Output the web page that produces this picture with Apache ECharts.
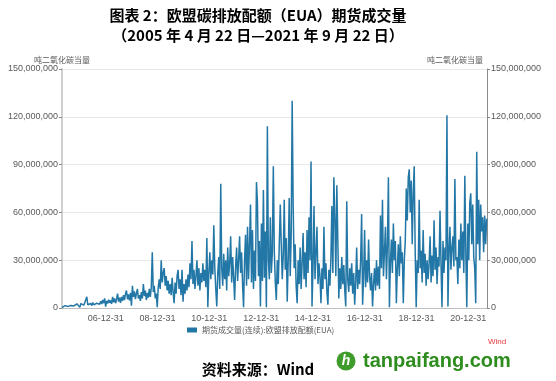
<!DOCTYPE html>
<html>
<head>
<meta charset="utf-8">
<script src="https://cdn.jsdelivr.net/npm/echarts@6/dist/echarts.min.js"></script>
<style>
html,body{margin:0;padding:0;background:#fff;}
#chart{width:556px;height:381px;}
</style>
</head>
<body>
<div id="chart"></div>
<script>
// ---- data ----
var titleLines = ['图表 2：欧盟碳排放配额（EUA）期货成交量', '（2005 年 4 月 22 日—2021 年 9 月 22 日）'];
var seriesName = '期货成交量(连续):欧盟排放配额(EUA)';
var unitName = '吨二氧化碳当量';
var startDate = [2005, 4, 22];
var endDate = [2021, 9, 22];
var stepDays = 14;
var xTickLabels = ['06-12-31', '08-12-31', '10-12-31', '12-12-31', '14-12-31', '16-12-31', '18-12-31', '20-12-31'];
var yTicks = [0, 30000000, 60000000, 90000000, 120000000, 150000000];
// volume, millions of tonnes, one value every 14 days from 2005-04-22
var volumeMillions = [
  0.3, 1.2, 0.6, 1.5, 0.8, 1.8, 1.0, 2.2, 1.1, 1.6, 0.9, 2.0, 1.3, 2.4, 1.2, 2.6, 1.5, 2.1, 0.4, 2.8, 1.6, 3.0, 1.8, 2.5, 1.4, 7.0,
  2.0, 3.2, 1.6, 2.8, 1.5, 3.4, 2.0, 2.6, 1.4, 3.0, 2.2, 3.6, 2.4, 4.2, 2.5, 5.0, 3.0, 6.0, 0.8, 4.4, 2.8, 5.2, 3.2, 4.8, 2.6, 7.0,
  3.5, 6.0, 3.0, 5.5, 9.0, 4.0, 6.5, 3.2, 7.0, 4.5, 8.0, 5.0, 9.0, 11.0, 5.5, 8.5, 4.8, 9.5, 1.5, 14.0, 7.0, 10.5, 5.5, 9.0, 12.0, 6.0,
  8.0, 4.5, 10.0, 6.0, 15.0, 7.5, 11.0, 5.0, 9.5, 6.5, 12.0, 7.0, 13.0, 35.0, 10.0, 14.0, 6.0, 9.0, 0.5, 13.0, 18.0, 12.0, 30.0, 16.0, 22.0, 25.0,
  14, 20, 11, 17, 9, 15, 8, 19, 10, 3, 16, 9, 20, 24, 12, 18, 8, 24, 4, 15, 9, 18, 11, 21, 13, 28,
  18, 42, 15, 24, 12, 20, 30, 14, 25, 11, 22, 16, 28, 17, 24, 13, 44, 0.5, 22, 35, 18, 30, 21, 52, 25, 12,
  1, 22, 32, 12, 78, 25, 14, 34, 18, 30, 11, 38, 20, 28, 45, 16, 32, 19, 5, 26, 38, 17, 30, 45, 22, 35,
  15, 0.5, 30, 46, 14, 51, 18, 40, 65, 16, 49, 12, 36, 17, 79, 66, 20, 42, 1, 53, 17, 74, 19, 48, 0.5, 114,
  30, 18, 57, 22, 35, 89, 35, 16, 5, 30, 15, 40, 65, 40, 18, 33, 68, 24, 44, 4, 30, 69, 20, 45, 130, 64,
  25, 40, 14, 3, 30, 15, 38, 12, 28, 47, 18, 35, 13, 49, 22, 57, 30, 92, 1, 26, 64, 18, 35, 51, 15, 28,
  20, 3, 25, 12, 51, 18, 28, 10, 2, 24, 14, 30, 64, 22, 82, 57, 20, 77, 43, 6, 25, 12, 32, 15, 27, 11,
  1, 67, 18, 10, 25, 14, 28, 9, 22, 2, 16, 38, 12, 24, 15, 30, 59, 2, 20, 49, 13, 30, 16, 43, 20, 11,
  22, 1, 15, 25, 11, 30, 14, 26, 12, 58, 25, 68, 20, 35, 51, 18, 40, 82, 0.5, 28, 43, 22, 53, 30, 42, 3,
  25, 40, 20, 45, 28, 35, 3, 30, 42, 75, 55, 82, 87, 60, 80, 40, 72, 89, 35, 0.5, 30, 22, 68, 25, 36, 16,
  49, 22, 34, 14, 30, 18, 28, 45, 16, 33, 20, 55, 24, 38, 15, 32, 26, 61, 28, 0.5, 42, 22, 38, 30, 121, 1,
  35, 51, 24, 38, 45, 26, 81, 30, 32, 15, 43, 25, 53, 30, 48, 22, 83, 35, 0.5, 53, 30, 66, 72, 40, 65, 32,
  25, 3, 98, 40, 68, 30, 65, 48, 57, 35, 58, 40, 56
];

// ---- build ----
function mkDate(a) { return new Date(a[0], a[1] - 1, a[2]).getTime(); }
function pad(n) { return (n < 10 ? '0' : '') + n; }
var t0 = mkDate(startDate);
var seriesData = volumeMillions.map(function (v, i) {
  var d = new Date(startDate[0], startDate[1] - 1, startDate[2] + i * stepDays);
  return [d.getTime(), v * 1000000];
});
var xTickValues = xTickLabels.map(function (s) {
  var p = s.split('-');
  return new Date(2000 + parseInt(p[0], 10), parseInt(p[1], 10) - 1, parseInt(p[2], 10)).getTime();
});
function fmtDate(v) {
  var d = new Date(v);
  return pad(d.getFullYear() % 100) + '-' + pad(d.getMonth() + 1) + '-' + pad(d.getDate());
}
function fmtNum(v) { return Math.round(v).toString().replace(/\B(?=(\d{3})+(?!\d))/g, ','); }

var FONT = '"Liberation Sans", "Noto Sans CJK SC", sans-serif';
var CJK = '"Noto Sans CJK SC", sans-serif';
var labelColor = '#595959';
var centerX = 258;

function yAxisCfg(pos) {
  var left = pos === 'left';
  return {
    type: 'value', position: pos, min: yTicks[0], max: yTicks[yTicks.length - 1],
    interval: yTicks[1] - yTicks[0],
    name: unitName, nameLocation: 'end', nameGap: 5,
    nameTextStyle: { fontFamily: CJK, fontSize: 8, color: labelColor, align: left ? 'center' : 'right', padding: left ? [0, 0, 0, 0] : [0, 4, 0, 0] },
    axisLine: { show: true, lineStyle: { color: left ? '#cfcfcf' : '#8c8c8c', width: left ? 2 : 1 } },
    axisTick: { show: true, length: 3, lineStyle: { color: '#8c8c8c' } },
    axisLabel: { fontFamily: FONT, fontSize: 9, color: labelColor, margin: 4, formatter: fmtNum },
    splitLine: { show: left, lineStyle: { color: '#e8e8e8', width: 1 } }
  };
}

var chart = echarts.init(document.getElementById('chart'), null, { renderer: 'canvas' });
chart.setOption({
  animation: false,
  backgroundColor: '#ffffff',
  title: [
    { text: titleLines[0], left: centerX, top: 8, padding: 0, textAlign: 'center',
      textStyle: { fontFamily: CJK, fontSize: 15, fontWeight: 'bold', color: '#000' } },
    { text: titleLines[1], left: centerX, top: 28, padding: 0, textAlign: 'center',
      textStyle: { fontFamily: CJK, fontSize: 15, fontWeight: 'bold', color: '#000' } }
  ],
  grid: { left: 62, right: 69, top: 69, bottom: 73, containLabel: false },
  legend: {
    data: [{ name: seriesName, icon: 'rect' }], left: 187, top: 326, padding: 0,
    itemWidth: 10, itemHeight: 5, itemGap: 5,
    textStyle: { fontFamily: CJK, fontSize: 8, color: labelColor }
  },
  xAxis: {
    type: 'value', min: t0, max: mkDate(endDate), scale: true,
    axisLine: { show: true, onZero: false, lineStyle: { color: '#bfbfbf', width: 1 } },
    axisTick: { show: false },
    splitLine: { show: false },
    axisLabel: {
      customValues: xTickValues, formatter: fmtDate, hideOverlap: false,
      fontFamily: FONT, fontSize: 9, color: labelColor, margin: 6
    }
  },
  yAxis: [yAxisCfg('left'), yAxisCfg('right')],
  series: [{
    name: seriesName, type: 'line', yAxisIndex: 0, data: seriesData,
    showSymbol: false, symbol: 'none',
    itemStyle: { color: '#2377a6' },
    lineStyle: { color: '#2377a6', width: 1.5 }
  }],
  graphic: [
    { type: 'text', left: 488, top: 338, style: { text: 'Wind', fill: '#e8393a', font: '8px ' + FONT } },
    { type: 'text', x: centerX, y: 369, style: { text: '资料来源：Wind', fill: '#000', font: 'bold 15px ' + CJK, textAlign: 'center', textVerticalAlign: 'middle' } },
    { type: 'circle', shape: { cx: 346, cy: 361, r: 9.5 }, style: { fill: '#3f9b2c' } },
    { type: 'text', x: 346, y: 361, style: { text: 'h', fill: '#ffffff', font: 'italic bold 14px "Liberation Sans"', textAlign: 'center', textVerticalAlign: 'middle' } },
    { type: 'text', x: 363, y: 361, style: { text: 'tanpaifang.com', fill: '#2e8d1e', font: 'bold 20px "Liberation Sans"', textAlign: 'left', textVerticalAlign: 'middle' } }
  ]
});
</script>
</body>
</html>
